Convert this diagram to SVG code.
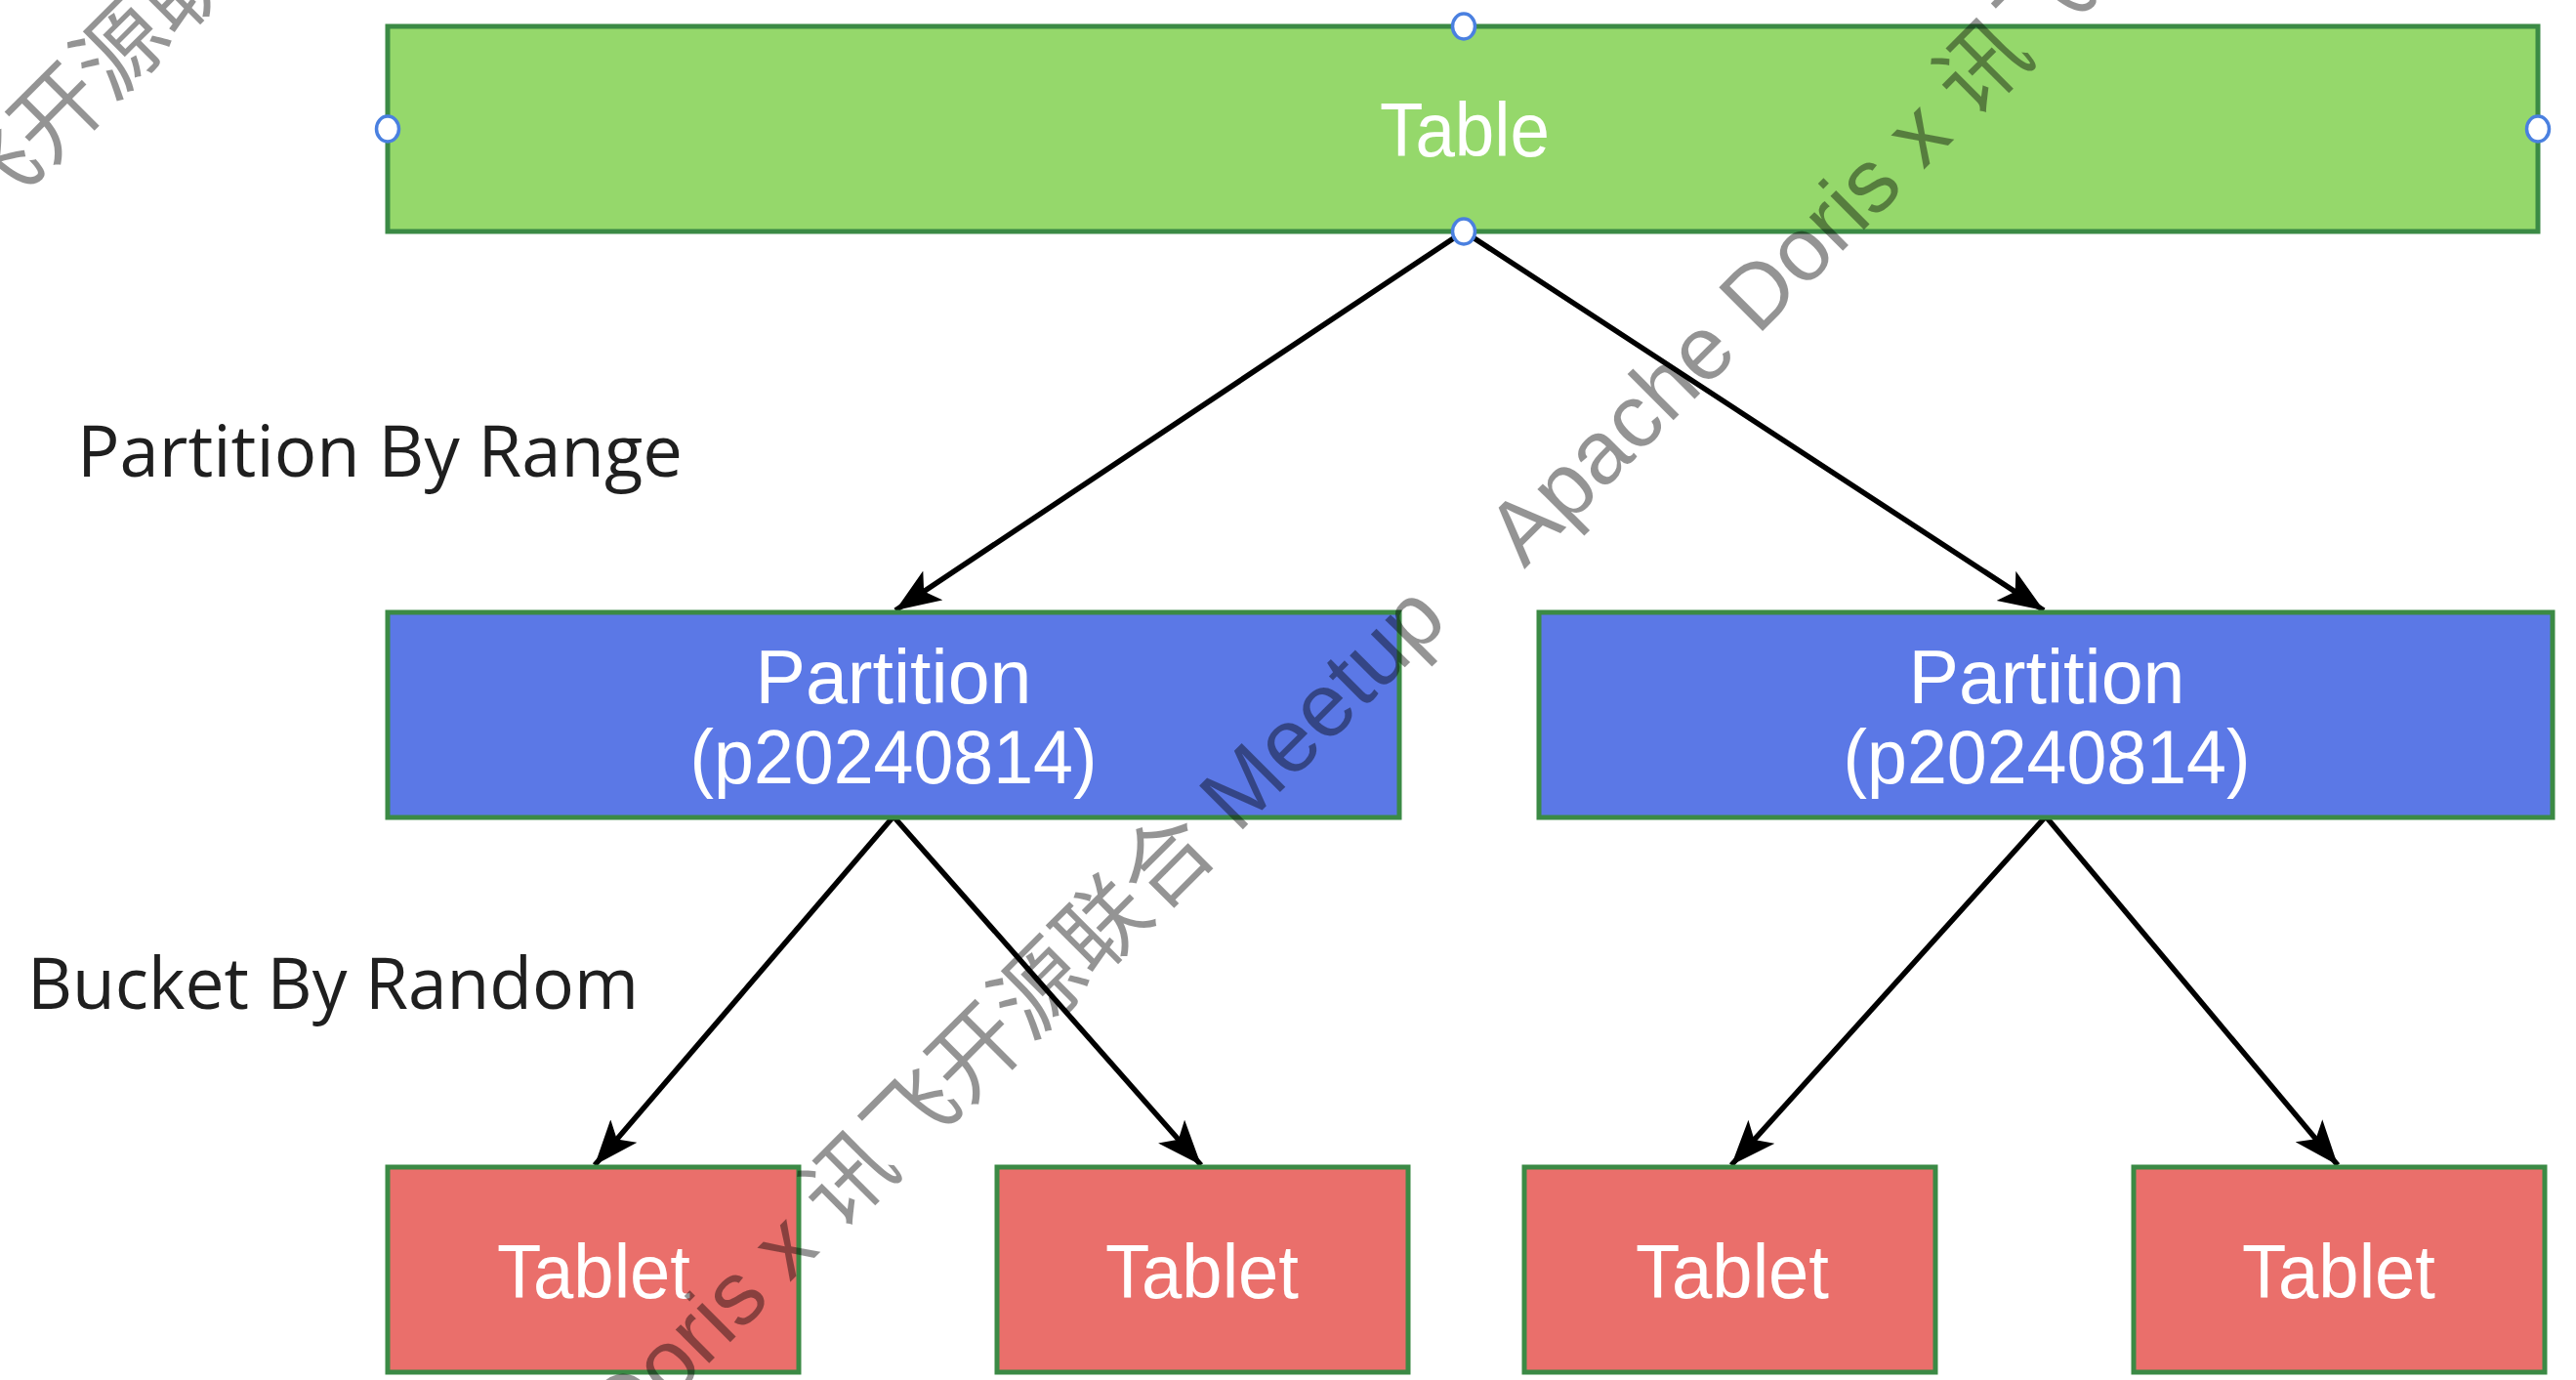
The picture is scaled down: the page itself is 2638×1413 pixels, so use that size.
<svg xmlns="http://www.w3.org/2000/svg" width="2638" height="1413" viewBox="0 0 2638 1413">
<style>
.box{stroke:#3b8a45;stroke-width:5}
.tbl{fill:#95d86b}
.part{fill:#5b78e6}
.tab{fill:#ea6f6b}
.lbl{font-family:"Liberation Sans",Arial,sans-serif;font-size:77px;fill:#ffffff;text-anchor:middle}
.side{font-family:"Open Sans","Noto Sans",sans-serif;font-size:73px;fill:#1f1f1f}
.conn{stroke:#000;stroke-width:5.5;fill:none;marker-end:url(#arr)}
.anchor{fill:#fff;stroke:#4a80e0;stroke-width:3.5}
.wm{font-family:"Liberation Sans","Noto Sans CJK SC",sans-serif;font-size:92px;fill:#000;fill-opacity:0.42}
</style>
<defs>
<marker id="arr" markerUnits="userSpaceOnUse" markerWidth="50" markerHeight="38" refX="46" refY="18" orient="auto" viewBox="0 0 50 38">
<path d="M0,0 L46,18 L0,36 L11,18 Z" fill="#000"/>
</marker>
</defs>
<rect width="2638" height="1413" fill="#ffffff"/>
<g id="connectors">
<line class="conn" x1="1499" y1="237" x2="917" y2="625"/>
<line class="conn" x1="1499" y1="237" x2="2093" y2="625"/>
<line class="conn" x1="915" y1="836" x2="609" y2="1193"/>
<line class="conn" x1="915" y1="836" x2="1230" y2="1193"/>
<line class="conn" x1="2095" y1="836" x2="1773" y2="1193"/>
<line class="conn" x1="2095" y1="836" x2="2394" y2="1193"/>
</g>
<g id="node-table">
<rect class="box tbl" x="397" y="27" width="2202" height="210"/>
<text class="lbl" x="1500" y="160" textLength="174" lengthAdjust="spacingAndGlyphs">Table</text>
<ellipse class="anchor" cx="1499" cy="27" rx="11.5" ry="13"/>
<ellipse class="anchor" cx="1499" cy="237" rx="11.5" ry="13"/>
<ellipse class="anchor" cx="397" cy="132" rx="11.5" ry="13"/>
<ellipse class="anchor" cx="2599" cy="132" rx="11.5" ry="13"/>
</g>
<g id="node-partition-left">
<rect class="box part" x="397" y="627" width="1036" height="210"/>
<text class="lbl" x="915" y="720" textLength="283" lengthAdjust="spacingAndGlyphs">Partition</text>
<text class="lbl" x="915" y="802" textLength="417" lengthAdjust="spacingAndGlyphs">(p20240814)</text>
</g>
<g id="node-partition-right">
<rect class="box part" x="1576" y="627" width="1038" height="210"/>
<text class="lbl" x="2096" y="720" textLength="283" lengthAdjust="spacingAndGlyphs">Partition</text>
<text class="lbl" x="2096" y="802" textLength="417" lengthAdjust="spacingAndGlyphs">(p20240814)</text>
</g>
<g id="node-tablet-1">
<rect class="box tab" x="397" y="1195" width="421" height="210"/>
<text class="lbl" x="608" y="1329" textLength="198" lengthAdjust="spacingAndGlyphs">Tablet</text>
</g>
<g id="node-tablet-2">
<rect class="box tab" x="1021" y="1195" width="421" height="210"/>
<text class="lbl" x="1231" y="1329" textLength="198" lengthAdjust="spacingAndGlyphs">Tablet</text>
</g>
<g id="node-tablet-3">
<rect class="box tab" x="1561" y="1195" width="421" height="210"/>
<text class="lbl" x="1774" y="1329" textLength="198" lengthAdjust="spacingAndGlyphs">Tablet</text>
</g>
<g id="node-tablet-4">
<rect class="box tab" x="2185" y="1195" width="421" height="210"/>
<text class="lbl" x="2395" y="1329" textLength="198" lengthAdjust="spacingAndGlyphs">Tablet</text>
</g>
<g id="labels">
<text class="side" x="79" y="488" textLength="620" lengthAdjust="spacingAndGlyphs">Partition By Range</text>
<text class="side" x="28" y="1033" textLength="626" lengthAdjust="spacingAndGlyphs">Bucket By Random</text>
</g>
<g id="watermark">
<text class="wm" transform="translate(1561,583) rotate(-45)">Apache Doris x 讯飞开源联合 Meetup</text>
<text class="wm" transform="translate(400,1722) rotate(-45)">Apache Doris x 讯飞开源联合 Meetup</text>
<text class="wm" transform="translate(-540,760) rotate(-45)">Apache Doris x 讯飞开源联合 Meetup</text>
</g>
</svg>
